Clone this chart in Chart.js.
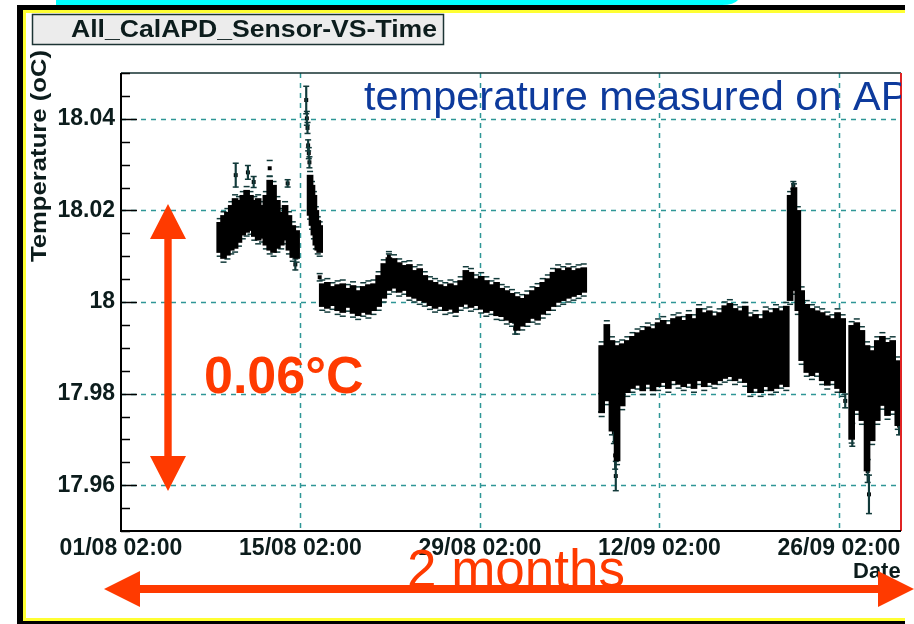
<!DOCTYPE html>
<html>
<head>
<meta charset="utf-8">
<title>All_CalAPD_Sensor-VS-Time</title>
<script src="https://cdn.jsdelivr.net/npm/chart.js@4.4.1/dist/chart.umd.min.js"></script>
<style>
html, body { margin: 0; padding: 0; background: #fff; }
canvas { display: block; }
</style>
</head>
<body>
<canvas id="tempChart" width="914" height="624"></canvas>
<script>
// time axis: days since 01/08 02:00
var xTickDays = [0, 14, 28, 42, 56];
var xTickLabels = ['01/08 02:00', '15/08 02:00', '29/08 02:00', '12/09 02:00', '26/09 02:00'];
var yTicks = [17.96, 17.98, 18, 18.02, 18.04];
var yTickLabels = ['17.96', '17.98', '18', '18.02', '18.04'];

// dense cloud of readings: lowest / highest value seen around each time
var bandDay = [
  7.7, 8.0, 8.3, 8.6, 8.9, 9.2, 9.5, 9.8, 10.1, 10.4, 10.7, 11.0, 11.3, 11.6, 11.9, 12.2, 12.5, 12.8, 13.1, 13.4, 13.7,
  14.75, 14.9, 15.05, 15.2, 15.35, 15.5,
  15.7, 16.1, 16.5, 16.9, 17.3, 17.7, 18.1, 18.5, 18.9, 19.3, 19.7, 20.1, 20.5, 20.9, 21.3, 21.7, 22.1, 22.5, 22.9, 23.3,
  23.7, 24.1, 24.5, 24.9, 25.3, 25.7, 26.1, 26.5, 26.9, 27.3, 27.7, 28.1, 28.5, 28.9, 29.3, 29.7, 30.1, 30.5, 30.9, 31.3,
  31.7, 32.1, 32.5, 32.9, 33.3, 33.7, 34.1, 34.5, 34.9, 35.3, 35.7, 36.1,
  37.5, 37.9, 38.3, 38.7, 39.1, 39.5, 39.9, 40.3, 40.7, 41.1, 41.5, 41.9, 42.3, 42.7, 43.1, 43.5, 43.9, 44.3, 44.7, 45.1,
  45.5, 45.9, 46.3, 46.7, 47.1, 47.5, 47.9, 48.3, 48.7, 49.1, 49.5, 49.9, 50.3, 50.7, 51.1, 51.5, 51.9,
  52.2, 52.5, 52.8,
  53.1, 53.5, 53.9, 54.3, 54.7, 55.1, 55.5, 55.9, 56.3,
  57.0, 57.4, 57.8, 58.2, 58.6, 59.0, 59.4, 59.8, 60.2, 60.6
];
var bandLow = [
  18.0108, 18.0095, 18.0102, 18.0113, 18.0117, 18.0130, 18.0146, 18.0152, 18.0156, 18.0143, 18.0135, 18.0139, 18.0124,
  18.0113, 18.0108, 18.0117, 18.0124, 18.0135, 18.0113, 18.0097, 18.0095,
  18.0189, 18.0167, 18.0146, 18.0124, 18.0113, 18.0108,
  17.9990, 17.9986, 17.9992, 17.9981, 17.9977, 17.9988, 17.9975, 17.9970, 17.9977, 17.9973, 17.9981, 17.9990, 18.0008,
  18.0025, 18.0030, 18.0021, 18.0025, 18.0012, 18.0008, 18.0003, 17.9999, 17.9992, 17.9986, 17.9990, 17.9981, 17.9984,
  17.9977, 17.9990, 17.9995, 17.9988, 17.9992, 17.9984, 17.9977, 17.9981, 17.9970, 17.9968, 17.9960, 17.9955, 17.9938,
  17.9947, 17.9955, 17.9964, 17.9960, 17.9973, 17.9981, 17.9990, 17.9999, 18.0003, 18.0008, 18.0012, 18.0016, 18.0021,
  17.9758, 17.9784, 17.9718, 17.9653, 17.9773, 17.9802, 17.9811, 17.9818, 17.9806, 17.9820, 17.9806, 17.9815, 17.9824,
  17.9811, 17.9828, 17.9820, 17.9815, 17.9822, 17.9811, 17.9828, 17.9815, 17.9824, 17.9820, 17.9828, 17.9833, 17.9837,
  17.9828, 17.9833, 17.9824, 17.9802, 17.9811, 17.9802, 17.9815, 17.9806, 17.9811, 17.9820, 17.9815,
  18.0003, 18.0025, 17.9981,
  17.9872, 17.9846, 17.9839, 17.9846, 17.9828, 17.9818, 17.9828, 17.9811, 17.9802,
  17.9700, 17.9763, 17.9741, 17.9631, 17.9697, 17.9741, 17.9774, 17.9752, 17.9763, 17.9730
];
var bandHigh = [
  18.0174, 18.0189, 18.0196, 18.0211, 18.0226, 18.0222, 18.0233, 18.0244, 18.0233, 18.0222, 18.0226, 18.0211, 18.0233,
  18.0266, 18.0255, 18.0222, 18.0196, 18.0211, 18.0189, 18.0167, 18.0156,
  18.0277, 18.0255, 18.0233, 18.0200, 18.0178, 18.0167,
  18.0040, 18.0043, 18.0034, 18.0038, 18.0040, 18.0030, 18.0036, 18.0025, 18.0034, 18.0038, 18.0040, 18.0058, 18.0084,
  18.0097, 18.0095, 18.0086, 18.0080, 18.0082, 18.0069, 18.0073, 18.0058, 18.0047, 18.0043, 18.0038, 18.0034, 18.0040,
  18.0036, 18.0047, 18.0069, 18.0065, 18.0051, 18.0056, 18.0047, 18.0038, 18.0043, 18.0030, 18.0025, 18.0019, 18.0012,
  18.0008, 18.0016, 18.0025, 18.0032, 18.0043, 18.0051, 18.0065, 18.0073, 18.0069, 18.0075, 18.0069, 18.0073, 18.0075,
  17.9905, 17.9951, 17.9916, 17.9905, 17.9909, 17.9916, 17.9925, 17.9933, 17.9938, 17.9946, 17.9942, 17.9955, 17.9960,
  17.9951, 17.9964, 17.9968, 17.9960, 17.9973, 17.9964, 17.9986, 17.9977, 17.9981, 17.9970, 17.9977, 17.9992, 17.9997,
  17.9986, 17.9981, 17.9991, 17.9968, 17.9973, 17.9964, 17.9981, 17.9977, 17.9986, 17.9981, 17.9991,
  18.0233, 18.0250, 18.0200,
  18.0025, 17.9995, 17.9986, 17.9981, 17.9977, 17.9970, 17.9964, 17.9977, 17.9964,
  17.9949, 17.9955, 17.9938, 17.9905, 17.9894, 17.9916, 17.9925, 17.9912, 17.9916, 17.9872
];
// typical error bar of a single reading in the cloud
var bandErr = 0.0008;

// isolated readings with their error bars
var ptDay  = [8.95, 9.9, 10.35, 11.6, 13.0, 13.6, 14.45, 14.5, 14.55, 14.6, 14.65, 14.7, 15.5, 20.9, 30.75,
              37.45, 38.45, 38.55, 38.6, 52.45, 56.5, 57.05, 58.25, 58.35, 60.7];
var ptTemp = [18.0277, 18.0283, 18.0262, 18.0292, 18.0259, 18.0082, 18.0441, 18.0401, 18.0380, 18.0342, 18.0325, 18.0305,
              18.0054, 18.0100, 17.9942, 17.9780, 17.9716, 17.9665, 17.9620, 18.0255, 17.9784, 17.9710, 17.9631, 17.9580, 17.9730];
var ptErr  = [0.0026, 0.0015, 0.0012, 0.0017, 0.0008, 0.0012, 0.0030, 0.0015, 0.0012, 0.0012, 0.0012, 0.0012, 0.0008,
              0.0010, 0.0012, 0.0020, 0.0025, 0.0030, 0.0032, 0.0008, 0.0015, 0.0025, 0.0025, 0.0042, 0.0020];

var FONT = "'Liberation Sans', Arial, sans-serif";
var RED = '#ff3a00';
var GRID = '#2f9696';
var ERRCOL = '#123a3a';

function arrowV(c, x, yTop, yBot) {
  var hw = 18, hl = 35, sw = 3.7;
  c.beginPath();
  c.moveTo(x, yTop); c.lineTo(x + hw, yTop + hl); c.lineTo(x + sw, yTop + hl);
  c.lineTo(x + sw, yBot - hl); c.lineTo(x + hw, yBot - hl); c.lineTo(x, yBot);
  c.lineTo(x - hw, yBot - hl); c.lineTo(x - sw, yBot - hl); c.lineTo(x - sw, yTop + hl);
  c.lineTo(x - hw, yTop + hl); c.closePath(); c.fill();
}
function arrowH(c, xL, xR, y) {
  var hw = 18, hl = 36, sw = 4;
  c.beginPath();
  c.moveTo(xL, y); c.lineTo(xL + hl, y - hw); c.lineTo(xL + hl, y - sw);
  c.lineTo(xR - hl, y - sw); c.lineTo(xR - hl, y - hw); c.lineTo(xR, y);
  c.lineTo(xR - hl, y + hw); c.lineTo(xR - hl, y + sw); c.lineTo(xL + hl, y + sw);
  c.lineTo(xL + hl, y + hw); c.closePath(); c.fill();
}
// text squeezed or stretched to a given length
function fitText(c, txt, x, y, len) {
  var w = c.measureText(txt).width;
  c.save();
  c.translate(x, y);
  c.scale(len / w, 1);
  c.fillText(txt, 0, 0);
  c.restore();
}

var decor = {
  id: 'decor',
  beforeDraw: function(chart) {
    var c = chart.ctx;
    c.save();
    c.fillStyle = '#fff';
    c.fillRect(0, 0, chart.width, chart.height);
    // slide strip and frame
    c.fillStyle = '#00ffff';
    c.beginPath();
    c.moveTo(56, 0); c.lineTo(738, 0); c.quadraticCurveTo(734, 5, 722, 5); c.lineTo(56, 5); c.closePath(); c.fill();
    c.fillStyle = '#000';
    c.fillRect(17, 5, 888, 5);
    c.fillRect(17, 5, 6, 619);
    c.fillRect(17, 621, 888, 3);
    c.fillStyle = '#ffff33';
    c.fillRect(23, 10, 882, 3);
    c.fillRect(23, 10, 3, 611);
    c.fillRect(23, 618, 882, 3);
    // title box
    c.fillStyle = '#ececec';
    c.fillRect(32.5, 14.5, 411, 30);
    c.strokeStyle = '#1c3434';
    c.lineWidth = 1.5;
    c.strokeRect(32.5, 14.5, 411, 30);
    c.fillStyle = '#0c1c1c';
    c.font = 'bold 23px ' + FONT;
    c.textBaseline = 'alphabetic';
    fitText(c, 'All_CalAPD_Sensor-VS-Time', 71, 37, 366);
    c.restore();
  },
  beforeDatasetsDraw: function(chart) {
    var c = chart.ctx, a = chart.chartArea;
    var xs = chart.scales.x, ys = chart.scales.y;
    c.save();
    c.strokeStyle = GRID;
    c.lineWidth = 1.5;
    c.setLineDash([5, 5]);
    yTicks.forEach(function(v) {
      var y = Math.round(ys.getPixelForValue(v)) + 0.5;
      c.beginPath(); c.moveTo(a.left, y); c.lineTo(a.right, y); c.stroke();
    });
    xTickDays.forEach(function(d) {
      if (d === 0) return;
      var x = Math.round(xs.getPixelForValue(d)) + 0.5;
      c.beginPath(); c.moveTo(x, a.top); c.lineTo(x, a.bottom); c.stroke();
    });
    c.restore();
  },
  afterDatasetsDraw: function(chart) {
    var c = chart.ctx, a = chart.chartArea;
    var ys = chart.scales.y;
    c.save();
    // frame
    c.strokeStyle = '#143030';
    c.lineWidth = 1.5;
    c.beginPath(); c.moveTo(a.left, a.top); c.lineTo(a.right, a.top); c.stroke();
    c.strokeStyle = '#e02424';
    c.lineWidth = 2;
    c.beginPath(); c.moveTo(a.right, a.top); c.lineTo(a.right, a.bottom); c.stroke();
    c.strokeStyle = '#000';
    c.beginPath(); c.moveTo(a.left, a.top); c.lineTo(a.left, a.bottom); c.lineTo(a.right, a.bottom); c.stroke();
    // inner ticks on the temperature axis
    c.lineWidth = 1.5;
    for (var i = 0; i <= 20; i++) {
      var v = 17.95 + i * 0.005;
      var y = Math.round(ys.getPixelForValue(v)) + 0.5;
      var major = yTicks.some(function(t) { return Math.abs(t - v) < 1e-6; });
      c.beginPath(); c.moveTo(a.left, y); c.lineTo(a.left + (major ? 16 : 9), y); c.stroke();
    }
    c.restore();
  },
  afterDraw: function(chart) {
    var c = chart.ctx, a = chart.chartArea;
    c.save();
    // axis titles
    c.fillStyle = '#0c1c1c';
    c.font = 'bold 22px ' + FONT;
    c.textAlign = 'left';
    c.textBaseline = 'alphabetic';
    c.fillText('Date', 853, 578);
    c.save();
    c.translate(46, 262);
    c.rotate(-Math.PI / 2);
    fitText(c, 'Temperature (oC)', 0, 0, 212);
    c.restore();
    // slide annotations
    c.save();
    c.beginPath(); c.rect(0, 0, a.right, chart.height); c.clip();
    c.fillStyle = '#0d3a9c';
    c.font = '41.5px ' + FONT;
    c.fillText('temperature measured on APD', 364, 110);
    c.restore();
    c.fillStyle = RED;
    arrowV(c, 168, 204, 491);
    arrowH(c, 104, 914, 589);
    c.font = 'bold 52px ' + FONT;
    c.fillText('0.06\u00b0C', 204, 393);
    c.font = '53px ' + FONT;
    c.fillText('2 months', 407, 587);
    c.restore();
  }
};

var tickFont = { family: FONT, size: 23, weight: 'bold' };

function ends(days, lo, hi) {
  return days.map(function(d, i) { return { x: d, y: lo[i] }; })
    .concat(days.map(function(d, i) { return { x: d, y: hi[i] }; }));
}
var bandLowErr = bandLow.map(function(v) { return v - bandErr; });
var bandHighErr = bandHigh.map(function(v) { return v + bandErr; });
var ptLow = ptTemp.map(function(v, i) { return v - ptErr[i]; });
var ptHigh = ptTemp.map(function(v, i) { return v + ptErr[i]; });

var chart = new Chart(document.getElementById('tempChart').getContext('2d'), {
  type: 'bar',
  data: {
    datasets: [{
      label: 'cloud',
      data: bandDay.map(function(d, i) { return { x: d, y: [bandLow[i], bandHigh[i]] }; }),
      backgroundColor: '#000',
      borderWidth: 0,
      barThickness: 6,
      stack: 'one'
    }, {
      label: 'cloud errors',
      data: bandDay.map(function(d, i) { return { x: d, y: [bandLowErr[i], bandHighErr[i]] }; }),
      backgroundColor: ERRCOL,
      borderWidth: 0,
      barThickness: 1.5,
      stack: 'one'
    }, {
      label: 'errors',
      data: ptDay.map(function(d, i) { return { x: d, y: [ptLow[i], ptHigh[i]] }; }),
      backgroundColor: ERRCOL,
      borderWidth: 0,
      barThickness: 1.5,
      stack: 'one'
    }, {
      type: 'scatter',
      label: 'caps',
      data: ends(ptDay, ptLow, ptHigh).concat(ends(bandDay, bandLowErr, bandHighErr)),
      pointStyle: 'line',
      radius: 3,
      borderColor: ERRCOL,
      borderWidth: 1.5
    }, {
      type: 'scatter',
      label: 'points',
      data: ptDay.map(function(d, i) { return { x: d, y: ptTemp[i] }; }),
      pointStyle: 'rect',
      radius: 2.8,
      backgroundColor: '#000',
      borderWidth: 0
    }]
  },
  options: {
    responsive: false,
    animation: false,
    events: [],
    layout: { padding: { top: 73, right: 13, bottom: 0, left: 0 } },
    plugins: { legend: { display: false }, tooltip: { enabled: false } },
    scales: {
      x: {
        type: 'linear',
        min: 0,
        max: 60.85,
        offset: false,
        grid: { display: false, drawTicks: false },
        border: { display: false },
        afterBuildTicks: function(s) { s.ticks = xTickDays.map(function(v) { return { value: v }; }); },
        afterFit: function(s) { s.height = 93; },
        ticks: {
          autoSkip: false,
          maxRotation: 0,
          padding: 4,
          color: '#0c1c1c',
          font: tickFont,
          callback: function(v, i) { return xTickLabels[i]; }
        }
      },
      y: {
        min: 17.95,
        max: 18.05,
        grid: { display: false, drawTicks: false },
        border: { display: false },
        afterBuildTicks: function(s) { s.ticks = yTicks.map(function(v) { return { value: v }; }); },
        afterFit: function(s) { s.width = 121; },
        ticks: {
          padding: 6,
          color: '#0c1c1c',
          font: tickFont,
          callback: function(v, i) { return yTickLabels[i]; }
        }
      }
    }
  },
  plugins: [decor]
});
</script>
</body>
</html>
